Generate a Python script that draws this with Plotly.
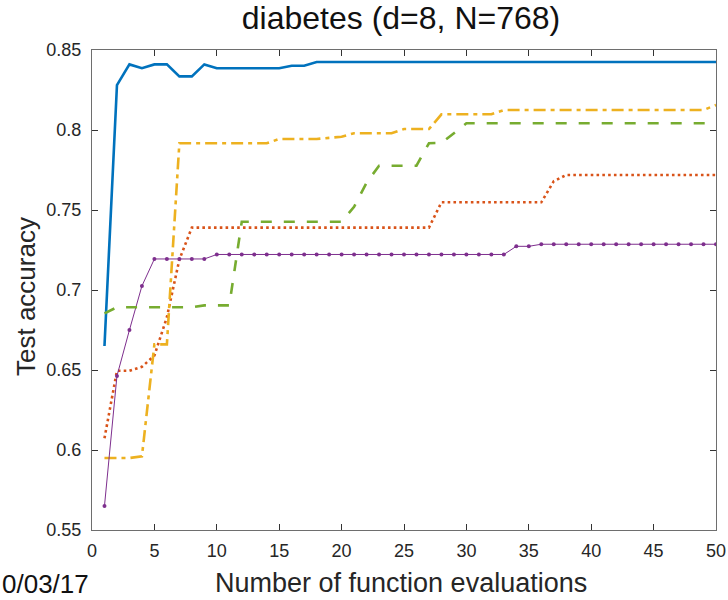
import plotly.graph_objects as go

# Evaluation budget on the x axis
evals = list(range(1, 51))

# Test accuracy of each method after n function evaluations
acc_blue = [0.665, 0.828, 0.841, 0.8386, 0.841, 0.841, 0.8335, 0.8335, 0.841, 0.8386,
            0.8386, 0.8386, 0.8386, 0.8386, 0.8386, 0.8402, 0.8402, 0.8425, 0.8425, 0.8425,
            0.8425, 0.8425, 0.8425, 0.8425, 0.8425, 0.8425, 0.8425, 0.8425, 0.8425, 0.8425,
            0.8425, 0.8425, 0.8425, 0.8425, 0.8425, 0.8425, 0.8425, 0.8425, 0.8425, 0.8425,
            0.8425, 0.8425, 0.8425, 0.8425, 0.8425, 0.8425, 0.8425, 0.8425, 0.8425, 0.8425]

acc_red = [0.6073, 0.6495, 0.6495, 0.652, 0.659, 0.683, 0.719, 0.739, 0.739, 0.739,
           0.739, 0.739, 0.739, 0.739, 0.739, 0.739, 0.739, 0.739, 0.739, 0.739,
           0.739, 0.739, 0.739, 0.739, 0.739, 0.739, 0.739, 0.7548, 0.7548, 0.7548,
           0.7548, 0.7548, 0.7548, 0.7548, 0.7548, 0.7548, 0.768, 0.7719, 0.7719, 0.7719,
           0.7719, 0.7719, 0.7719, 0.7719, 0.7719, 0.7719, 0.7719, 0.7719, 0.7719, 0.7719]

acc_yellow = [0.595, 0.595, 0.595, 0.596, 0.666, 0.666, 0.7917, 0.7917, 0.7917, 0.7917,
              0.7917, 0.7917, 0.7917, 0.7917, 0.7944, 0.7944, 0.7944, 0.7944, 0.7951, 0.7958,
              0.798, 0.798, 0.798, 0.798, 0.8006, 0.8006, 0.8006, 0.8098, 0.8098, 0.8098,
              0.8098, 0.8098, 0.8125, 0.8125, 0.8125, 0.8125, 0.8125, 0.8125, 0.8125, 0.8125,
              0.8125, 0.8125, 0.8125, 0.8125, 0.8125, 0.8125, 0.8125, 0.8125, 0.8125, 0.8156]

acc_purple = [0.565, 0.6463, 0.675, 0.7025, 0.7194, 0.7194, 0.7194, 0.7194, 0.7194, 0.7222,
              0.7222, 0.7222, 0.7222, 0.7222, 0.7222, 0.7222, 0.7222, 0.7222, 0.7222, 0.7222,
              0.7222, 0.7222, 0.7222, 0.7222, 0.7222, 0.7222, 0.7222, 0.7222, 0.7222, 0.7222,
              0.7222, 0.7222, 0.7222, 0.7273, 0.7273, 0.7286, 0.7286, 0.7286, 0.7286, 0.7286,
              0.7286, 0.7286, 0.7286, 0.7286, 0.7286, 0.7286, 0.7286, 0.7286, 0.7286, 0.7286]

acc_green = [0.6854, 0.6892, 0.6892, 0.6892, 0.6892, 0.6892, 0.6892, 0.6892, 0.6904, 0.6904,
             0.6904, 0.7427, 0.7427, 0.7427, 0.7427, 0.7427, 0.7427, 0.7427, 0.7427, 0.7427,
             0.752, 0.767, 0.7777, 0.7777, 0.7777, 0.7777, 0.7917, 0.792, 0.798, 0.8042,
             0.8042, 0.8042, 0.8042, 0.8042, 0.8042, 0.8042, 0.8042, 0.8042, 0.8042, 0.8042,
             0.8042, 0.8042, 0.8042, 0.8042, 0.8042, 0.8042, 0.8042, 0.8042, 0.8042, 0.8042]

x_ticks = [0, 5, 10, 15, 20, 25, 30, 35, 40, 45, 50]
x_tick_text = ["0", "5", "10", "15", "20", "25", "30", "35", "40", "45", "50"]
y_ticks = [0.55, 0.6, 0.65, 0.7, 0.75, 0.8, 0.85]
y_tick_text = ["0.55", "0.6", "0.65", "0.7", "0.75", "0.8", "0.85"]

title_text = "diabetes (d=8, N=768)"
x_label = "Number of function evaluations"
y_label = "Test accuracy"
date_stamp = "0/03/17"

FONT = "Liberation Sans, Arial, Helvetica, sans-serif"
INK = "#262626"

fig = go.Figure()

fig.add_trace(go.Scatter(x=evals, y=acc_blue, mode="lines",
                         line=dict(color="#0072BD", width=2.6)))
fig.add_trace(go.Scatter(x=evals, y=acc_red, mode="lines",
                         line=dict(color="#D95319", width=2.6, dash="2.6px,3.2px")))
fig.add_trace(go.Scatter(x=evals, y=acc_yellow, mode="lines",
                         line=dict(color="#EDB120", width=2.6, dash="12px,5px,4px,5px")))
fig.add_trace(go.Scatter(x=evals, y=acc_purple, mode="lines+markers",
                         line=dict(color="#7E2F8E", width=1),
                         marker=dict(color="#7E2F8E", size=4)))
fig.add_trace(go.Scatter(x=evals, y=acc_green, mode="lines",
                         line=dict(color="#77AC30", width=2.6, dash="11px,12px")))

axis_common = dict(
    showline=True, linecolor="#6e6e6e", linewidth=1, mirror="ticks",
    ticks="inside", ticklen=6, tickwidth=1, tickcolor="#333333",
    showgrid=False, zeroline=False, automargin=False,
    tickfont=dict(family=FONT, size=18, color=INK),
)

fig.update_xaxes(range=[0, 50], tickvals=x_ticks, ticktext=x_tick_text,
                 ticklabelstandoff=4, **axis_common)
fig.update_yaxes(range=[0.55, 0.85], tickvals=y_ticks, ticktext=y_tick_text,
                 ticklabelstandoff=6, **axis_common)

fig.update_layout(
    width=728, height=600,
    margin=dict(l=92, r=12, t=50, b=70, autoexpand=False),
    paper_bgcolor="white", plot_bgcolor="white",
    showlegend=False,
    font=dict(family=FONT, color=INK),
    title=dict(text=title_text, xref="container", yref="container",
               x=401 / 728, y=1 - 18 / 600, xanchor="center", yanchor="middle",
               font=dict(family=FONT, size=32, color="#111111")),
)

# Axis labels and the date stamp, placed in paper coordinates (plot box = 624 x 480 px)
fig.add_annotation(text=x_label, xref="paper", yref="paper",
                   x=(401 - 92) / 624, y=(530 - 583) / 480,
                   xanchor="center", yanchor="middle", showarrow=False,
                   font=dict(family=FONT, size=27, color=INK))
fig.add_annotation(text=y_label, xref="paper", yref="paper",
                   x=(26 - 92) / 624, y=(530 - 297) / 480, textangle=-90,
                   xanchor="center", yanchor="middle", showarrow=False,
                   font=dict(family=FONT, size=26, color=INK))
fig.add_annotation(text=date_stamp, xref="paper", yref="paper",
                   x=(0 - 92) / 624, y=(530 - 584) / 480,
                   xanchor="left", yanchor="middle", showarrow=False,
                   font=dict(family=FONT, size=26, color="#111111"))

fig.write_html("out.html")
